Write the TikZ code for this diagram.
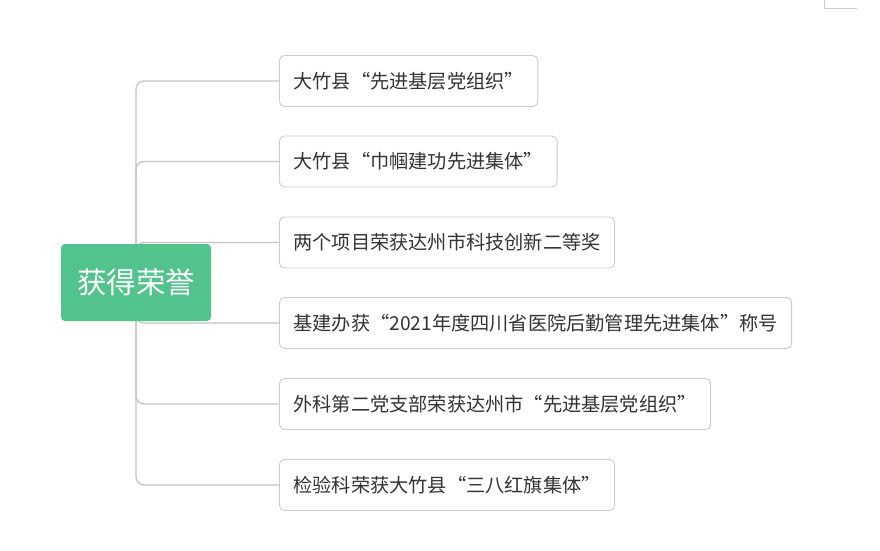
\documentclass[tikz,border=0pt]{standalone}
\usepackage{fontspec}
\setmainfont{Noto Sans CJK SC}
\usetikzlibrary{positioning,backgrounds}
\definecolor{rootgreen}{RGB}{82,195,140}
\definecolor{linegray}{RGB}{195,195,195}
\definecolor{boxgray}{RGB}{204,204,204}
\definecolor{textgray}{RGB}{51,51,51}
\tikzset{
  rootbox/.style={fill=rootgreen,rounded corners=4pt,minimum width=150pt,minimum height=77pt,
    inner sep=0pt,text=white,font=\fontsize{29.5}{34}\selectfont},
  leafbox/.style={draw=boxgray,line width=0.9pt,fill=white,rounded corners=5pt,minimum height=51pt,
    inner xsep=14pt,anchor=west,text=textgray,font=\fontsize{19.2}{23}\selectfont},
  branch/.style={draw=linegray,line width=1.3pt,rounded corners=8pt}
}

\begin{document}
\begin{tikzpicture}[x=1pt,y=-1pt]
\useasboundingbox (0,0) rectangle (880,551);
\node[rootbox] (root) at (136,282.5) {获得荣誉};
\node[leafbox] (honor1) at (279,81) {大竹县“先进基层党组织”};
\node[leafbox] (honor2) at (279,161.5) {大竹县“巾帼建功先进集体”};
\node[leafbox] (honor3) at (279,242.5) {两个项目荣获达州市科技创新二等奖};
\node[leafbox] (honor4) at (279,323) {基建办获“2021年度四川省医院后勤管理先进集体”称号};
\node[leafbox] (honor5) at (279,404) {外科第二党支部荣获达州市“先进基层党组织”};
\node[leafbox] (honor6) at (279,485) {检验科荣获大竹县“三八红旗集体”};
\begin{scope}[on background layer]
\draw[branch] (root.center) |- (honor1.west);
\draw[branch] (root.center) |- (honor2.west);
\draw[branch] (root.center) |- (honor3.west);
\draw[branch] (root.center) |- (honor4.west);
\draw[branch] (root.center) |- (honor5.west);
\draw[branch] (root.center) |- (honor6.west);
\end{scope}
% corner mark, top right
\draw[boxgray,line width=0.8pt] (824,0) |- (857,8);
\end{tikzpicture}
\end{document}
